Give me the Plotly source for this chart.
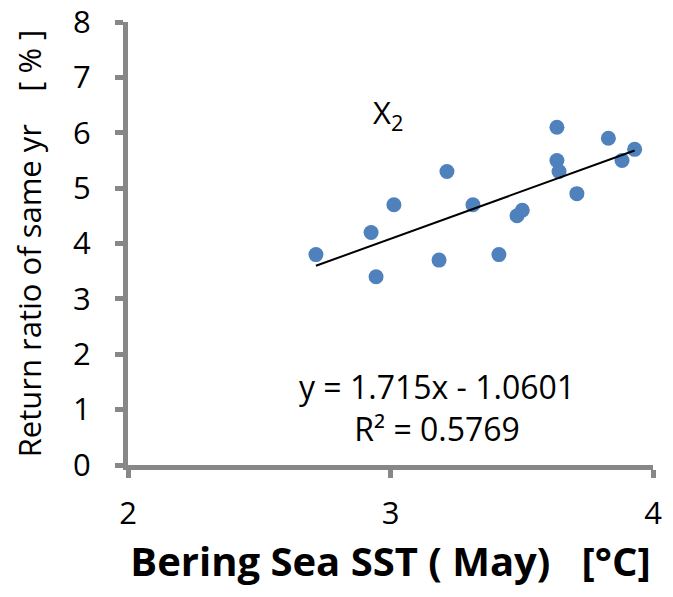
import plotly.graph_objects as go

# Bering Sea SST in May [°C] vs. return ratio of same year [%]
sst = [2.716, 2.926, 2.945, 3.013, 3.185, 3.215, 3.314, 3.413, 3.482, 3.502,
       3.634, 3.634, 3.642, 3.71, 3.83, 3.882, 3.93]
ratio = [3.8, 4.2, 3.4, 4.7, 3.7, 5.3, 4.7, 3.8, 4.5, 4.6,
         6.1, 5.5, 5.3, 4.9, 5.9, 5.5, 5.7]

# Linear fit as reported
slope = 1.715
intercept = -1.0601
r2 = 0.5769

x_ticks = [2, 3, 4]
y_ticks = [0, 1, 2, 3, 4, 5, 6, 7, 8]

font_family = "'Open Sans', 'Noto Sans', sans-serif"
axis_color = "#878787"

x_fit = [min(sst), max(sst)]
y_fit = [slope * v + intercept for v in x_fit]

fig = go.Figure()
fig.add_trace(go.Scatter(
    x=sst, y=ratio, mode="markers",
    marker=dict(size=15, color="#4F81BD", line=dict(width=0)),
    showlegend=False,
))
fig.add_trace(go.Scatter(
    x=x_fit, y=y_fit, mode="lines",
    line=dict(color="black", width=2),
    showlegend=False,
))

fig.add_annotation(
    x=2.992, y=6.34, xref="x", yref="y",
    text="X<sub>2</sub>", showarrow=False,
    font=dict(family=font_family, size=31, color="black"),
)
fig.add_annotation(
    x=3.177, y=1.047, xref="x", yref="y",
    text=f"y = {slope}x - {abs(intercept)}<br>R² = {r2}",
    showarrow=False, align="center",
    font=dict(family=font_family, size=32, color="black"),
)

fig.update_layout(
    width=673, height=597,
    margin=dict(l=128, r=20, t=22, b=132),
    plot_bgcolor="white", paper_bgcolor="white",
    font=dict(family=font_family, color="black"),
    xaxis=dict(
        range=[2, 4], tickvals=x_ticks, ticks="outside", ticklen=8, tickwidth=5,
        tickcolor=axis_color, showline=True, linecolor=axis_color, linewidth=5,
        showgrid=False, zeroline=False, automargin=False,
        tickfont=dict(size=31, family=font_family),
        ticklabelstandoff=9, ticklabeloverflow="allow",
        title=dict(text="<b>Bering Sea SST ( May)   [°C]</b>",
                   font=dict(size=40, family=font_family), standoff=9),
    ),
    yaxis=dict(
        range=[0, 8], tickvals=y_ticks, ticks="outside", ticklen=8, tickwidth=5,
        tickcolor=axis_color, showline=True, linecolor=axis_color, linewidth=5,
        showgrid=False, zeroline=False, automargin=False,
        tickfont=dict(size=31, family=font_family),
        ticklabelstandoff=18, ticklabeloverflow="allow",
        title=dict(text="Return ratio of same yr    [ % ]",
                   font=dict(size=31, family=font_family), standoff=24),
    ),
)

fig.write_html("out.html")
